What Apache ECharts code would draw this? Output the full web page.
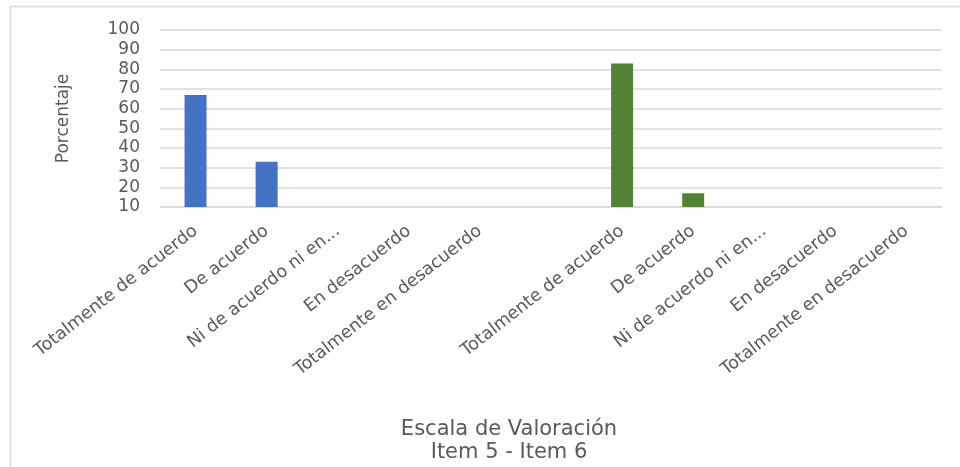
<!DOCTYPE html>
<html>
<head>
<meta charset="utf-8">
<script src="https://cdn.jsdelivr.net/npm/echarts@6/dist/echarts.min.js"></script>
<style>html,body{margin:0;padding:0;background:#fff;}#c{width:960px;height:467px;}</style>
</head>
<body>
<div id="c"></div>
<script>
var categories = ["Totalmente de acuerdo","De acuerdo","Ni de acuerdo ni en...","En desacuerdo","Totalmente en desacuerdo","",
  "Totalmente de acuerdo ","De acuerdo ","Ni de acuerdo ni en... ","En desacuerdo ","Totalmente en desacuerdo "];
var item5 = [67, 33, null, null, null, null, null, null, null, null, null];
var item6 = [null, null, null, null, null, null, 83, 17, null, null, null];
var yTicks = [10,20,30,40,50,60,70,80,90,100];

var FONT = '"DejaVu Sans", sans-serif';
var chart = echarts.init(document.getElementById('c'));
chart.setOption({
  animation: false,
  grid: {left: 160, right: 18, top: 30, bottom: 260, containLabel: false},
  graphic: [
    {type: 'rect', shape: {x: 10.5, y: 6.5, width: 970, height: 480}, style: {fill: 'none', stroke: '#d9d9d9', lineWidth: 1.5}},
    {type: 'text', style: {x: 509, y: 430, text: 'Escala de Valoración', align: 'center', verticalAlign: 'middle', font: '21px "DejaVu Sans", sans-serif', fill: '#595959'}},
    {type: 'text', style: {x: 509, y: 453, text: 'Item 5 - Item 6', align: 'center', verticalAlign: 'middle', font: '21px "DejaVu Sans", sans-serif', fill: '#595959'}}
  ],
  xAxis: {
    type: 'category',
    data: categories,
    axisLine: {show: true, lineStyle: {color: '#d9d9d9', width: 1.5}},
    axisTick: {show: false},
    axisLabel: {rotate: 38, interval: 0, color: '#595959', fontSize: 17.5, fontFamily: FONT, margin: 22,
      formatter: function(v){ return v.trim(); }}
  },
  yAxis: {
    type: 'value',
    min: 10, max: 100, interval: 10,
    name: 'Porcentaje',
    nameLocation: 'middle',
    nameGap: 88,
    nameRotate: 90,
    nameTextStyle: {color: '#595959', fontSize: 17, fontFamily: FONT},
    axisLine: {show: false},
    axisTick: {show: false},
    axisLabel: {color: '#595959', fontSize: 17, fontFamily: FONT, margin: 20,
      formatter: function(v){ return yTicks.indexOf(v) >= 0 ? String(v) : ''; }},
    splitLine: {lineStyle: {color: '#d9d9d9', width: 1.5}}
  },
  series: [
    {type: 'bar', name: 'Item 5', stack: 's', data: item5, barWidth: 22, itemStyle: {color: '#4472c4'}},
    {type: 'bar', name: 'Item 6', stack: 's', data: item6, barWidth: 22, itemStyle: {color: '#548235'}}
  ]
});
</script>
</body>
</html>
